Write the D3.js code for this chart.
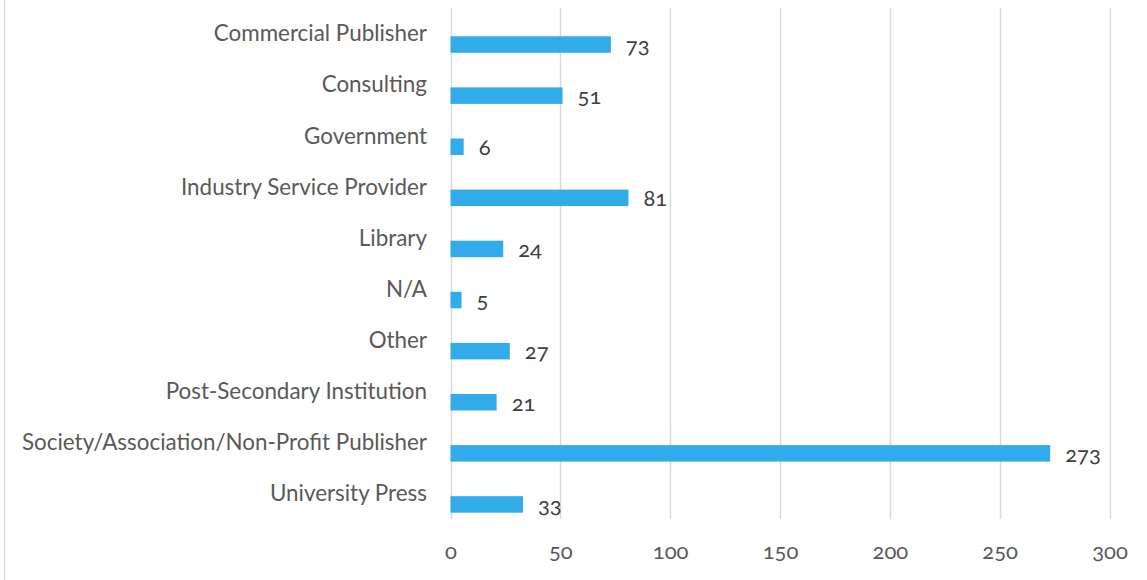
<!DOCTYPE html>
<html>
<head>
<meta charset="utf-8">
<script src="https://cdn.jsdelivr.net/npm/d3@7"></script>
<style>
  html, body { margin: 0; padding: 0; background: #fff; }
  svg { display: block; }
  text { font-family: Lato, "Open Sans", sans-serif; fill: #595959; }
</style>
</head>
<body>
<svg id="chart" width="1147" height="580"></svg>
<script>
const categories = [
  "Commercial Publisher",
  "Consulting",
  "Government",
  "Industry Service Provider",
  "Library",
  "N/A",
  "Other",
  "Post-Secondary Institution",
  "Society/Association/Non-Profit Publisher",
  "University Press"
];
const values = [73, 51, 6, 81, 24, 5, 27, 21, 273, 33];
const tickValues = [0, 50, 100, 150, 200, 250, 300];

const svg = d3.select("#chart");
const W = 1147, H = 580;
const plot = { left: 450.5, right: 1109.5, top: 8, bottom: 519 };

const x = d3.scaleLinear().domain([0, 300]).range([plot.left, plot.right]);
const y = d3.scaleBand().domain(categories).range([plot.top, plot.bottom]).paddingInner(0).paddingOuter(0);

// left border line
svg.append("line")
  .attr("x1", 4.5).attr("x2", 4.5).attr("y1", 0).attr("y2", H)
  .attr("stroke", "#d9d9d9").attr("stroke-width", 1.5);

// gridlines
svg.append("g").selectAll("line").data(tickValues).join("line")
  .attr("x1", d => Math.round(x(d)) + 0.5).attr("x2", d => Math.round(x(d)) + 0.5)
  .attr("y1", plot.top).attr("y2", plot.bottom)
  .attr("stroke", "#d9d9d9").attr("stroke-width", 1.5);

// x axis tick labels
const xAxis = d3.axisBottom(x).tickValues(tickValues).tickSize(0).tickPadding(0).tickFormat(d3.format("d"));
const gx = svg.append("g").attr("transform", `translate(0, 559)`).call(xAxis);
gx.select(".domain").remove();
gx.selectAll("text")
  .attr("y", 0).attr("dy", null)
  .style("font-size", "22px").style("fill", "#595959")
  .style("font-family", "Lato, 'Open Sans', sans-serif")
  .style("font-feature-settings", "'onum' 1");

const barH = 16.5, barOffset = 11;

// category labels
svg.append("g").selectAll("text").data(categories).join("text")
  .attr("x", 427)
  .attr("y", d => y(d) + y.bandwidth() / 2)
  .attr("dy", "0.35em")
  .attr("text-anchor", "end")
  .style("font-size", "22.4px")
  .text(d => d);

// bars
svg.append("g").selectAll("rect").data(values).join("rect")
  .attr("x", x(0))
  .attr("y", (d, i) => y(categories[i]) + y.bandwidth() / 2 + barOffset - barH / 2)
  .attr("width", d => x(d) - x(0))
  .attr("height", barH)
  .attr("fill", "#31abea");

// value labels
svg.append("g").selectAll("text").data(values).join("text")
  .attr("x", d => x(d) + 15)
  .attr("y", (d, i) => y(categories[i]) + y.bandwidth() / 2 + barOffset + barH / 2)
  .attr("text-anchor", "start")
  .style("font-size", "22px")
  .style("font-feature-settings", "'onum' 1")
  .style("fill", "#404040")
  .text(d => d);
</script>
</body>
</html>
